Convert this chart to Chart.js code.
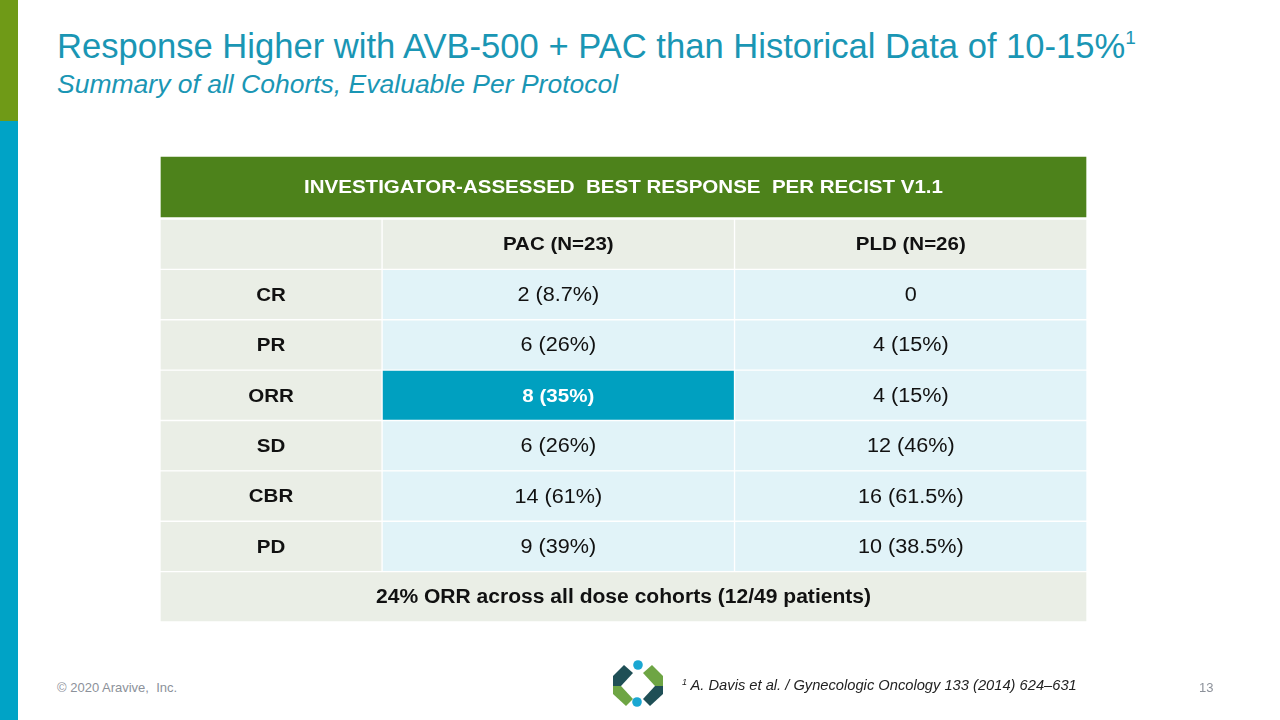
<!DOCTYPE html>
<html>
<head>
<meta charset="utf-8">
<script src="https://cdn.jsdelivr.net/npm/chart.js@4.4.1/dist/chart.umd.min.js"></script>
<style>
  html, body { margin: 0; padding: 0; background: #fff; }
  body { width: 1280px; height: 720px; position: relative; overflow: hidden; font-family: "Liberation Sans", Arial, sans-serif; }
  .bar-green { position: absolute; left: 0; top: 0; width: 18px; height: 121px; background: #6f9a17; }
  .bar-teal { position: absolute; left: 0; top: 121px; width: 18px; height: 599px; background: #00a3c6; }
  .title { position: absolute; left: 57px; top: 27px; font-size: 34.6px; color: #1a96b4; white-space: nowrap; }
  .title sup { font-size: 19px; vertical-align: 14px; line-height: 0; }
  .subtitle { position: absolute; left: 57px; top: 69px; font-size: 26.5px; font-style: italic; color: #1a96b4; white-space: nowrap; }
  #headCanvas { position: absolute; left: 160px; top: 156px; }
  #tableCanvas { position: absolute; left: 160px; top: 219px; }
  .copy { position: absolute; left: 57px; top: 680px; font-size: 13px; color: #8c919a; white-space: nowrap; }
  .pagenum { position: absolute; left: 1199px; top: 680px; font-size: 13px; color: #8c919a; }
  .ref { position: absolute; left: 682px; top: 677px; font-size: 14.7px; font-style: italic; color: #222; white-space: nowrap; }
  .ref sup { font-size: 9px; vertical-align: 5px; line-height: 0; }
  .logo { position: absolute; left: 0; top: 0; }
</style>
</head>
<body>
<div class="bar-green"></div>
<div class="bar-teal"></div>
<div class="title">Response Higher with AVB-500 + PAC than Historical Data of 10-15%<sup>1</sup></div>
<div class="subtitle">Summary of all Cohorts, Evaluable Per Protocol</div>

<canvas id="headCanvas" width="927" height="62"></canvas>
<canvas id="tableCanvas" width="927" height="403"></canvas>

<div class="copy">© 2020 Aravive,&nbsp; Inc.</div>
<svg class="logo" width="1280" height="720" viewBox="0 0 1280 720">
  <polygon points="613,676 624,665 633,673 621,686 613,686" fill="#1f4f56"/>
  <polygon points="613,686 621,686 633,699 626,706 613,694" fill="#6ea544"/>
  <polygon points="663,676 652,665 643,673 655,686 663,686" fill="#6ea544"/>
  <polygon points="663,686 655,686 643,699 650,706 663,694" fill="#1f4f56"/>
  <circle cx="638" cy="665" r="4.8" fill="#1aa7d2"/>
  <circle cx="637" cy="702" r="4.8" fill="#1aa7d2"/>
</svg>
<div class="ref"><sup>1</sup> A. Davis et al. / Gynecologic Oncology 133 (2014) 624–631</div>
<div class="pagenum">13</div>

<script>
// ---- table content ----
const tableTitle = "INVESTIGATOR-ASSESSED  BEST RESPONSE  PER RECIST V1.1";
const columns = ["PAC (N=23)", "PLD (N=26)"];
const responses = ["CR", "PR", "ORR", "SD", "CBR", "PD"];
const pacCounts = [2, 6, 8, 6, 14, 9];
const pacPercents = ["8.7%", "26%", "35%", "26%", "61%", "39%"];
const pldCounts = [0, 4, 4, 12, 16, 10];
const pldPercents = [null, "15%", "15%", "46%", "61.5%", "38.5%"];
const highlight = "ORR"; // PAC cell shaded
const footnote = "24% ORR across all dose cohorts (12/49 patients)";

// column edges along the x scale (label column is narrower)
const colEdges = [0, 0.63, 1.63, 2.63];
const textScaleX = 1.08;

const GREEN = "#4d821b";
const LIGHT = "#eaeee6";
const CELL = "#e1f3f8";
const HILITE = "#00a0c0";

function cellText(count, pct) {
  return pct ? count + " (" + pct + ")" : String(count);
}

// draws the text of every bar in its centre
const cellLabels = {
  id: "cellLabels",
  afterDatasetsDraw(chart) {
    const ctx = chart.ctx;
    chart.data.datasets.forEach(function (ds, i) {
      const meta = chart.getDatasetMeta(i);
      meta.data.forEach(function (bar, j) {
        const txt = ds.texts[j];
        if (!txt) return;
        const cx = (bar.x + bar.base) / 2;
        const color = Array.isArray(ds.textColor) ? ds.textColor[j] : ds.textColor;
        const font = Array.isArray(ds.textFont) ? ds.textFont[j] : ds.textFont;
        ctx.save();
        ctx.translate(cx, bar.y);
        ctx.scale(textScaleX, 1);
        ctx.font = font;
        ctx.fillStyle = color;
        ctx.textAlign = "center";
        ctx.textBaseline = "middle";
        ctx.fillText(txt, 0, 1);
        ctx.restore();
      });
    });
  }
};

const commonBar = {
  barPercentage: 1,
  categoryPercentage: 1,
  grouped: false,
  borderWidth: 1,
  borderColor: "#ffffff",
  borderSkipped: false
};

function baseOptions() {
  return {
    indexAxis: "y",
    responsive: false,
    animation: false,
    events: [],
    layout: { padding: 0 },
    plugins: { legend: { display: false }, tooltip: { enabled: false } },
    scales: {
      x: { type: "linear", min: colEdges[0], max: colEdges[3], display: false },
      y: { type: "category", display: false, offset: true }
    }
  };
}

// ---- green title band ----
new Chart(document.getElementById("headCanvas"), {
  type: "bar",
  data: {
    labels: ["title"],
    datasets: [Object.assign({
      data: [[colEdges[0], colEdges[3]]],
      backgroundColor: GREEN,
      texts: [tableTitle],
      textColor: "#ffffff",
      textFont: "bold 19px 'Liberation Sans', Arial, sans-serif"
    }, commonBar)]
  },
  options: baseOptions(),
  plugins: [cellLabels]
});

// ---- table body ----
const rows = ["head"].concat(responses, ["foot"]);
const boldFont = "bold 19px 'Liberation Sans', Arial, sans-serif";
const plainFont = "20px 'Liberation Sans', Arial, sans-serif";
const footFont = "bold 19.5px 'Liberation Sans', Arial, sans-serif";

function valueColumn(lo, hi, name, counts, percents) {
  const data = [], bg = [], texts = [], colors = [], fonts = [];
  rows.forEach(function (r, k) {
    if (r === "foot") { data.push(null); bg.push(CELL); texts.push(null); colors.push("#000"); fonts.push(plainFont); return; }
    data.push([lo, hi]);
    if (r === "head") {
      bg.push(LIGHT); texts.push(name); colors.push("#111"); fonts.push(boldFont);
    } else {
      const idx = k - 1;
      const hl = name === columns[0] && r === highlight;
      bg.push(hl ? HILITE : CELL);
      texts.push(cellText(counts[idx], percents[idx]));
      colors.push(hl ? "#ffffff" : "#111");
      fonts.push(hl ? boldFont : plainFont);
    }
  });
  return Object.assign({ data: data, backgroundColor: bg, texts: texts, textColor: colors, textFont: fonts }, commonBar);
}

const labelColumn = Object.assign({
  data: rows.map(function (r) { return r === "foot" ? null : [colEdges[0], colEdges[1]]; }),
  backgroundColor: LIGHT,
  texts: rows.map(function (r) { return (r === "head" || r === "foot") ? null : r; }),
  textColor: "#111",
  textFont: boldFont
}, commonBar);

const footRow = Object.assign({
  data: rows.map(function (r) { return r === "foot" ? [colEdges[0], colEdges[3]] : null; }),
  backgroundColor: LIGHT,
  texts: rows.map(function (r) { return r === "foot" ? footnote : null; }),
  textColor: "#111",
  textFont: footFont
}, commonBar);

new Chart(document.getElementById("tableCanvas"), {
  type: "bar",
  data: {
    labels: rows,
    datasets: [
      labelColumn,
      valueColumn(colEdges[1], colEdges[2], columns[0], pacCounts, pacPercents),
      valueColumn(colEdges[2], colEdges[3], columns[1], pldCounts, pldPercents),
      footRow
    ]
  },
  options: baseOptions(),
  plugins: [cellLabels]
});
</script>
</body>
</html>
